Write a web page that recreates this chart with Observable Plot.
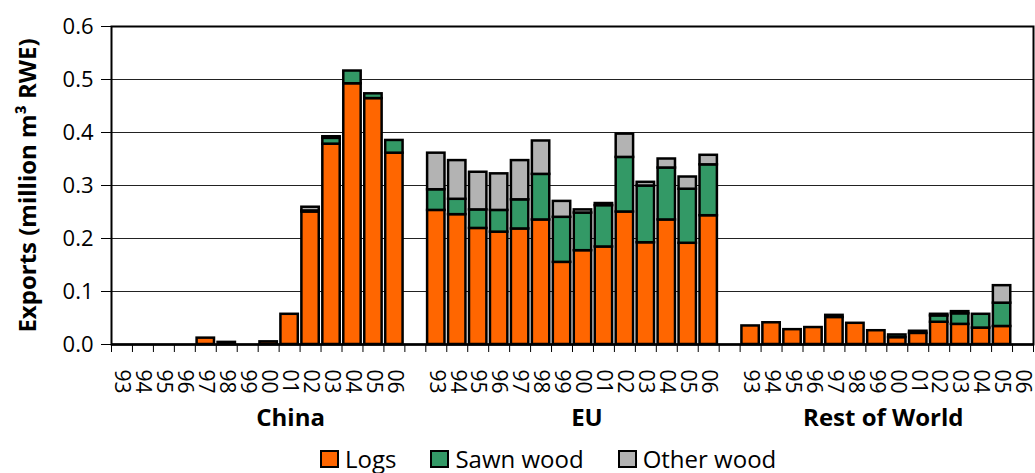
<!DOCTYPE html>
<html>
<head>
<meta charset="utf-8">
<script src="https://cdn.jsdelivr.net/npm/d3@7"></script>
<script src="https://cdn.jsdelivr.net/npm/@observablehq/plot@0.6"></script>
<style>
  html, body { margin: 0; padding: 0; background: #fff; overflow: hidden; }
  #chart svg { display: block; }
  #legend { height: 28px; padding-top: 5px; display: flex; align-items: center; padding-left: 320px;
            font-family: "Open Sans", sans-serif; font-size: 24px; line-height: 1; color: #000; }
  #legend .item { display: flex; align-items: center; margin-right: 34px; }
  #legend .sw { width: 19px; height: 18px; box-sizing: border-box; border: 2px solid #000; margin-right: 6px; }
</style>
</head>
<body>
<div id="chart"></div>
<div id="legend"></div>
<script>
// ---- data ----
const years = ["93","94","95","96","97","98","99","00","01","02","03","04","05","06"];
const regions = ["China", "EU", "Rest of World"];
const types = ["Logs", "Sawn wood", "Other wood"];
const colors = ["#FF6600", "#339966", "#B3B3B3"];

const chinaLogs  = [0, 0, 0, 0, 0.012, 0.004, 0, 0.005, 0.057, 0.250, 0.378, 0.492, 0.464, 0.361];
const chinaSawn  = [0, 0, 0, 0, 0, 0, 0, 0, 0, 0.002, 0.011, 0.024, 0.009, 0.024];
const chinaOther = [0, 0, 0, 0, 0, 0, 0, 0, 0, 0.007, 0.003, 0, 0, 0];

const euLogs  = [0.253, 0.245, 0.219, 0.212, 0.218, 0.235, 0.155, 0.177, 0.184, 0.250, 0.192, 0.235, 0.191, 0.243];
const euSawn  = [0.039, 0.029, 0.035, 0.041, 0.055, 0.086, 0.085, 0.071, 0.078, 0.103, 0.107, 0.098, 0.102, 0.096];
const euOther = [0.069, 0.073, 0.071, 0.069, 0.074, 0.063, 0.030, 0.006, 0.004, 0.044, 0.007, 0.017, 0.023, 0.018];

const rowLogs  = [0.035, 0.041, 0.028, 0.032, 0.051, 0.040, 0.026, 0.013, 0.021, 0.042, 0.038, 0.031, 0.034, 0];
const rowSawn  = [0, 0, 0, 0, 0.004, 0, 0, 0.005, 0.004, 0.012, 0.020, 0.026, 0.044, 0];
const rowOther = [0, 0, 0, 0, 0, 0, 0, 0, 0, 0.003, 0.004, 0, 0.033, 0];

const yTicks = [0, 0.1, 0.2, 0.3, 0.4, 0.5, 0.6];
const yLabel = "Exports (million m³ RWE)";

// ---- build table ----
const series = [
  [chinaLogs, chinaSawn, chinaOther],
  [euLogs, euSawn, euOther],
  [rowLogs, rowSawn, rowOther]
];
const key = (r, y) => r + "|" + y;
const domain = [];
regions.forEach((r, ri) => {
  if (ri > 0) domain.push("gap" + ri);
  years.forEach(y => domain.push(key(r, y)));
});
const rows = [];
regions.forEach((r, ri) => {
  years.forEach((y, yi) => {
    types.forEach((t, ti) => {
      const v = series[ri][ti][yi];
      if (v > 0) rows.push({key: key(r, y), region: r, year: y, type: t, value: v});
    });
  });
});
const groupAnchor = ["01", "00", "00"];
const groupShift = [1, 4, -14];

// ---- layout ----
const width = 1035, height = 440;
const marginLeft = 111, marginRight = 2, marginTop = 26, marginBottom = 96;
const step = (width - marginLeft - marginRight) / domain.length;

const groupMarks = regions.map((r, i) =>
  Plot.text([{region: r, key: key(r, groupAnchor[i])}], {
    x: "key", y: () => 0, text: "region", dy: 74, dx: groupShift[i],
    lineAnchor: "middle", textAnchor: "middle", fontWeight: "bold", fontSize: 24
  })
);

const chart = Plot.plot({
  width, height, marginLeft, marginRight, marginTop, marginBottom,
  style: {fontFamily: "'Open Sans', sans-serif", fontSize: "20px", color: "#000", background: "#fff"},
  x: {domain, paddingInner: 0.17, paddingOuter: 0.085, axis: null},
  y: {domain: [0, 0.6], axis: null},
  color: {domain: types, range: colors},
  marks: [
    Plot.ruleY(yTicks.slice(1, -1), {stroke: "#222", strokeWidth: 1.2}),
    Plot.barY(rows, {x: "key", y: "value", fill: "type", stroke: "#000", strokeWidth: 2.5, order: types}),
    Plot.frame({stroke: "#000", strokeWidth: 2}),
    Plot.ruleY([0], {stroke: "#000", strokeWidth: 2.5}),
    Plot.axisY({ticks: yTicks, tickFormat: d3.format(".1f"), tickSize: 10, tickPadding: 8, label: null, fontSize: 22}),
    Plot.axisX({ticks: domain, tickSize: 8, tickFormat: () => "", label: null, dx: -step / 2}),
    Plot.axisX({ticks: [domain[domain.length - 1]], tickSize: 8, tickFormat: () => "", label: null, dx: step / 2}),
    Plot.axisX({ticks: domain, tickSize: 0, tickPadding: 25, tickRotate: 90, label: null, fontSize: 21,
      tickFormat: d => d.startsWith("gap") ? "" : d.split("|")[1]}),
    ...groupMarks,
    Plot.text([yLabel], {frameAnchor: "left", rotate: -90, dx: -83, fontWeight: "bold", fontSize: 24, textAnchor: "middle"})
  ]
});
document.getElementById("chart").appendChild(chart);

// legend
const legend = document.getElementById("legend");
types.forEach((t, i) => {
  const item = document.createElement("div");
  item.className = "item";
  const sw = document.createElement("span");
  sw.className = "sw";
  sw.style.background = colors[i];
  const lab = document.createElement("span");
  lab.textContent = t;
  item.appendChild(sw); item.appendChild(lab);
  legend.appendChild(item);
});
</script>
</body>
</html>
